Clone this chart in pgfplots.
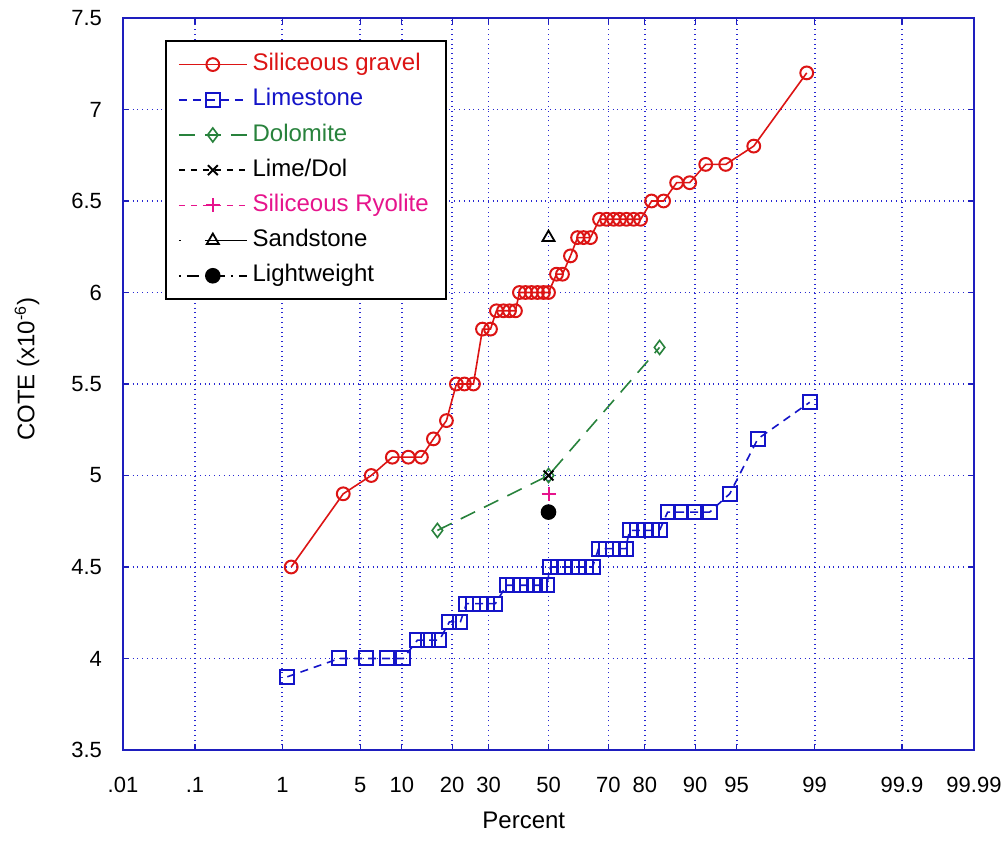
\documentclass[border=0pt]{standalone}
\usepackage{pgfplots}
\pgfplotsset{compat=1.18}
\usepackage{fontspec}
\setmainfont{Liberation Sans}
\definecolor{cred}{RGB}{220,20,20}
\definecolor{cblue}{RGB}{20,20,200}
\definecolor{cgreen}{RGB}{40,130,60}
\definecolor{cmag}{RGB}{230,20,140}
\definecolor{gridblue}{RGB}{40,40,210}
\definecolor{axblue}{RGB}{30,30,190}
\begin{document}
\begin{tikzpicture}
\useasboundingbox (-61.5pt,-45.5pt) rectangle (442.5pt,375pt);
\begin{axis}[
  scale only axis, width=425.5pt, height=366pt,
  xmin=-3.719, xmax=3.719, ymin=3.5, ymax=7.5,
  xtick={-3.719,-3.090,-2.326,-1.645,-1.282,-0.842,-0.524,0,0.524,0.842,1.282,1.645,2.326,3.090,3.719},
  xticklabels={.01,.1,1,5,10,20,30,50,70,80,90,95,99,99.9,99.99},
  ytick={3.5,4,4.5,5,5.5,6,6.5,7,7.5},
  grid=major,
  major grid style={gridblue, dotted, line width=0.9pt},
  axis line style={axblue, line width=0.8pt},
  tick style={axblue, line width=0.6pt}, major tick length=3pt, tick align=inside,
  tick label style={font=\fontsize{11}{13}\selectfont, text=black},
  /pgf/number format/assume math mode=true,
  yticklabel style={xshift=-7pt},
  xticklabel style={yshift=-10pt},
  label style={font=\fontsize{12}{14}\selectfont},
  xlabel={Percent},
  ylabel={COTE (x10\textsuperscript{-6})},
  xlabel style={at={(axis description cs:0.471,-0.0956)}, anchor=center},
  ylabel style={at={(axis description cs:-0.1128,0.52)}, anchor=center},
  legend style={at={(axis description cs:0.0494,0.970)}, anchor=north west,
    draw=black, line width=1pt, font=\fontsize{12}{14}\selectfont,
    row sep=0pt, inner xsep=6pt, inner ysep=3pt,
    nodes={inner sep=2.5pt, text height=9.4pt, text depth=3.2pt}},
  legend cell align=left,
  legend image code/.code={\draw[mark repeat=2,mark phase=2] plot coordinates {(0pt,0pt)(17pt,0pt)(34pt,0pt)};},
]
\addplot[cred, line width=0.8pt, mark=o, mark size=3.2pt, mark options={line width=1pt}] coordinates {
(-2.249,4.5)
(-1.794,4.9)
(-1.549,5.0)
(-1.365,5.1)(-1.225,5.1)(-1.111,5.1)
(-1.006,5.2)
(-0.892,5.3)
(-0.805,5.5)(-0.735,5.5)(-0.656,5.5)
(-0.577,5.8)(-0.507,5.8)
(-0.455,5.9)(-0.394,5.9)(-0.341,5.9)(-0.289,5.9)
(-0.254,6.0)(-0.201,6.0)(-0.149,6.0)(-0.096,6.0)(-0.044,6.0)(0,6.0)
(0.070,6.1)(0.122,6.1)
(0.192,6.2)
(0.254,6.3)(0.306,6.3)(0.367,6.3)
(0.446,6.4)(0.507,6.4)(0.569,6.4)(0.621,6.4)(0.682,6.4)(0.744,6.4)(0.805,6.4)
(0.901,6.5)(1.006,6.5)
(1.120,6.6)(1.234,6.6)
(1.374,6.7)(1.549,6.7)
(1.794,6.8)
(2.257,7.2)
};
\addlegendentry{\textcolor{cred}{Siliceous gravel}}
\addplot[cblue, line width=0.8pt, dash pattern=on 4pt off 3pt, mark=square, mark size=3.5pt, mark options={solid, line width=1pt}] coordinates {
(-2.283,3.9)
(-1.829,4.0)(-1.592,4.0)(-1.409,4.0)(-1.269,4.0)
(-1.146,4.1)(-1.050,4.1)(-0.954,4.1)
(-0.866,4.2)(-0.770,4.2)
(-0.717,4.3)(-0.656,4.3)(-0.595,4.3)(-0.534,4.3)(-0.464,4.3)
(-0.367,4.4)(-0.306,4.4)(-0.245,4.4)(-0.184,4.4)(-0.122,4.4)(-0.070,4.4)(-0.017,4.4)
(0.017,4.5)(0.079,4.5)(0.140,4.5)(0.201,4.5)(0.262,4.5)(0.324,4.5)(0.385,4.5)
(0.437,4.6)(0.499,4.6)(0.560,4.6)(0.621,4.6)(0.674,4.6)
(0.709,4.7)(0.770,4.7)(0.840,4.7)(0.901,4.7)(0.971,4.7)
(1.041,4.8)(1.155,4.8)(1.269,4.8)(1.409,4.8)
(1.584,4.9)
(1.829,5.2)
(2.283,5.4)
};
\addlegendentry{\textcolor{cblue}{Limestone}}
\addplot[cgreen, line width=0.8pt, dash pattern=on 8pt off 5pt, mark=diamond, mark size=3.5pt, mark options={solid, line width=0.8pt}] coordinates {
(-0.971,4.7)(0,5.0)(0.971,5.7)
};
\addlegendentry{\textcolor{cgreen}{Dolomite}}
\addplot[black, line width=0.8pt, dash pattern=on 3pt off 3pt, mark=x, mark size=3.5pt, mark options={solid, line width=1pt}] coordinates {
(0,5.0)
};
\addlegendentry{Lime/Dol}
\addplot[cmag, line width=0.8pt, dash pattern=on 3pt off 3pt, mark=+, mark size=3.5pt, mark options={solid, line width=1pt}] coordinates {
(0,4.9)
};
\addlegendentry{\textcolor{cmag}{Siliceous Ryolite}}
\addplot[black, line width=0.8pt, dash pattern=on 1pt off 12pt on 100pt off 1pt, mark=triangle, mark size=3.5pt, mark options={solid, line width=0.9pt}] coordinates {
(0,6.3)
};
\addlegendentry{Sandstone}
\addplot[black, line width=0.8pt, dash pattern=on 1pt off 3pt on 6pt off 3pt, mark=*, mark size=3.5pt, mark options={solid}] coordinates {
(0,4.8)
};
\addlegendentry{Lightweight}
\end{axis}
\end{tikzpicture}
\end{document}
